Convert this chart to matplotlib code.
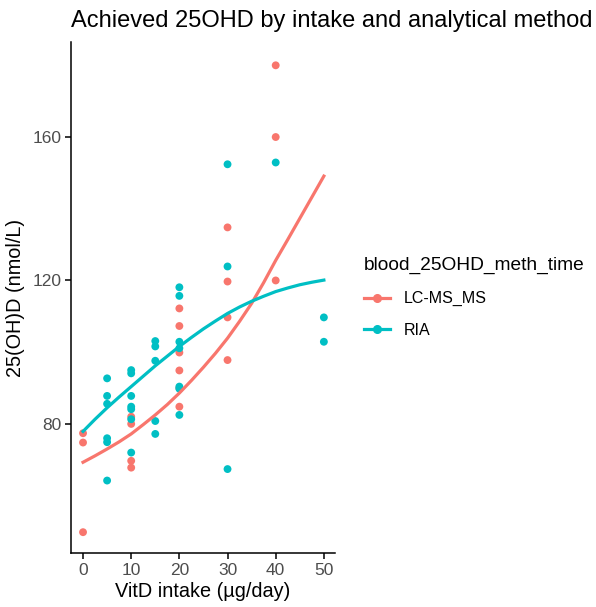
import matplotlib.pyplot as plt
from matplotlib.lines import Line2D

plt.rcParams['font.family'] = ['Liberation Sans', 'DejaVu Sans']

# points
lc_x = [0, 0, 0, 10, 10, 10, 10, 20, 20, 20, 20, 20, 20, 30, 30, 30, 30, 40, 40, 40]
lc_y = [77.4, 74.8, 49.8, 82, 80, 69.7, 67.8, 112.2, 107.3, 99.9, 94.9, 90, 84.8,
        134.8, 119.7, 109.7, 97.8, 180, 160, 120]
ria_x = [5, 5, 5, 5, 5, 5, 10, 10, 10, 10, 10, 10, 10, 15, 15, 15, 15, 15,
         20, 20, 20, 20, 20, 20, 20, 30, 30, 30, 40, 50, 50]
ria_y = [92.7, 87.8, 85.6, 76, 74.9, 64.2, 95, 94.1, 87.8, 84.8, 84.1, 81.3, 72,
         103.1, 101.6, 97.6, 80.8, 77.2, 118.1, 115.7, 102.9, 101.1, 90.4, 89.8, 82.5,
         152.4, 123.9, 67.4, 152.9, 109.7, 102.9]

# smooth curves read every 2.5 ug/day
fit_x = [0, 2.5, 5, 7.5, 10, 12.5, 15, 17.5, 20, 22.5, 25,
         27.5, 30, 32.5, 35, 37.5, 40, 42.5, 45, 47.5, 50]
lc_fit = [69.3, 71.1, 73, 75, 77.2, 79.8, 82.5, 85.4, 88.6, 92.1, 95.8,
          99.7, 103.9, 108.6, 113.6, 119.4, 125.6, 131.4, 137.3, 143.2, 149.1]
ria_fit = [77.9, 81.3, 84.5, 87.5, 90.4, 93.3, 96.2, 98.9, 101.6, 104.1, 106.5,
           108.7, 110.8, 112.6, 114.2, 115.6, 116.9, 117.9, 118.8, 119.5, 120.1]

red = '#F8766D'
teal = '#00BFC4'

fig = plt.figure(figsize=(5.96, 6.07), dpi=100)
ax = fig.add_axes([0.1191, 0.089, 0.4429, 0.8418])

ax.scatter(lc_x, lc_y, s=32, color=red, edgecolors='none', zorder=3)
ax.scatter(ria_x, ria_y, s=32, color=teal, edgecolors='none', zorder=3)
ax.plot(fit_x, lc_fit, color=red, lw=2.3, zorder=4)
ax.plot(fit_x, ria_fit, color=teal, lw=2.3, zorder=4)

ax.set_xlim(-2.5, 52.3)
ax.set_ylim(44, 186.5)
ax.set_xticks([0, 10, 20, 30, 40, 50])
ax.set_yticks([80, 120, 160])
for s in ['top', 'right']:
    ax.spines[s].set_visible(False)
for s in ['left', 'bottom']:
    ax.spines[s].set_linewidth(1.1)
ax.tick_params(length=4, width=1.1, labelsize=12.5, labelcolor='#4D4D4D', pad=3)

ax.set_xlabel('VitD intake (µg/day)', fontsize=14.3, labelpad=3)
ax.set_ylabel('25(OH)D (nmol/L)', fontsize=14.3, labelpad=5)
fig.text(0.1191, 0.965, 'Achieved 25OHD by intake and analytical method',
         fontsize=17, va='center', ha='left')

handles = [Line2D([], [], color=red, lw=2.3, marker='o', markersize=5.5),
           Line2D([], [], color=teal, lw=2.3, marker='o', markersize=5.5)]
leg = fig.legend(handles, ['LC-MS_MS', 'RIA'], title='blood_25OHD_meth_time',
                 loc='upper left', bbox_to_anchor=(0.587, 0.6), frameon=False,
                 fontsize=11.5, title_fontsize=13.8, handlelength=1.6,
                 handletextpad=0.9, labelspacing=1.05, alignment='left')

fig.savefig('out.png', dpi=100)
